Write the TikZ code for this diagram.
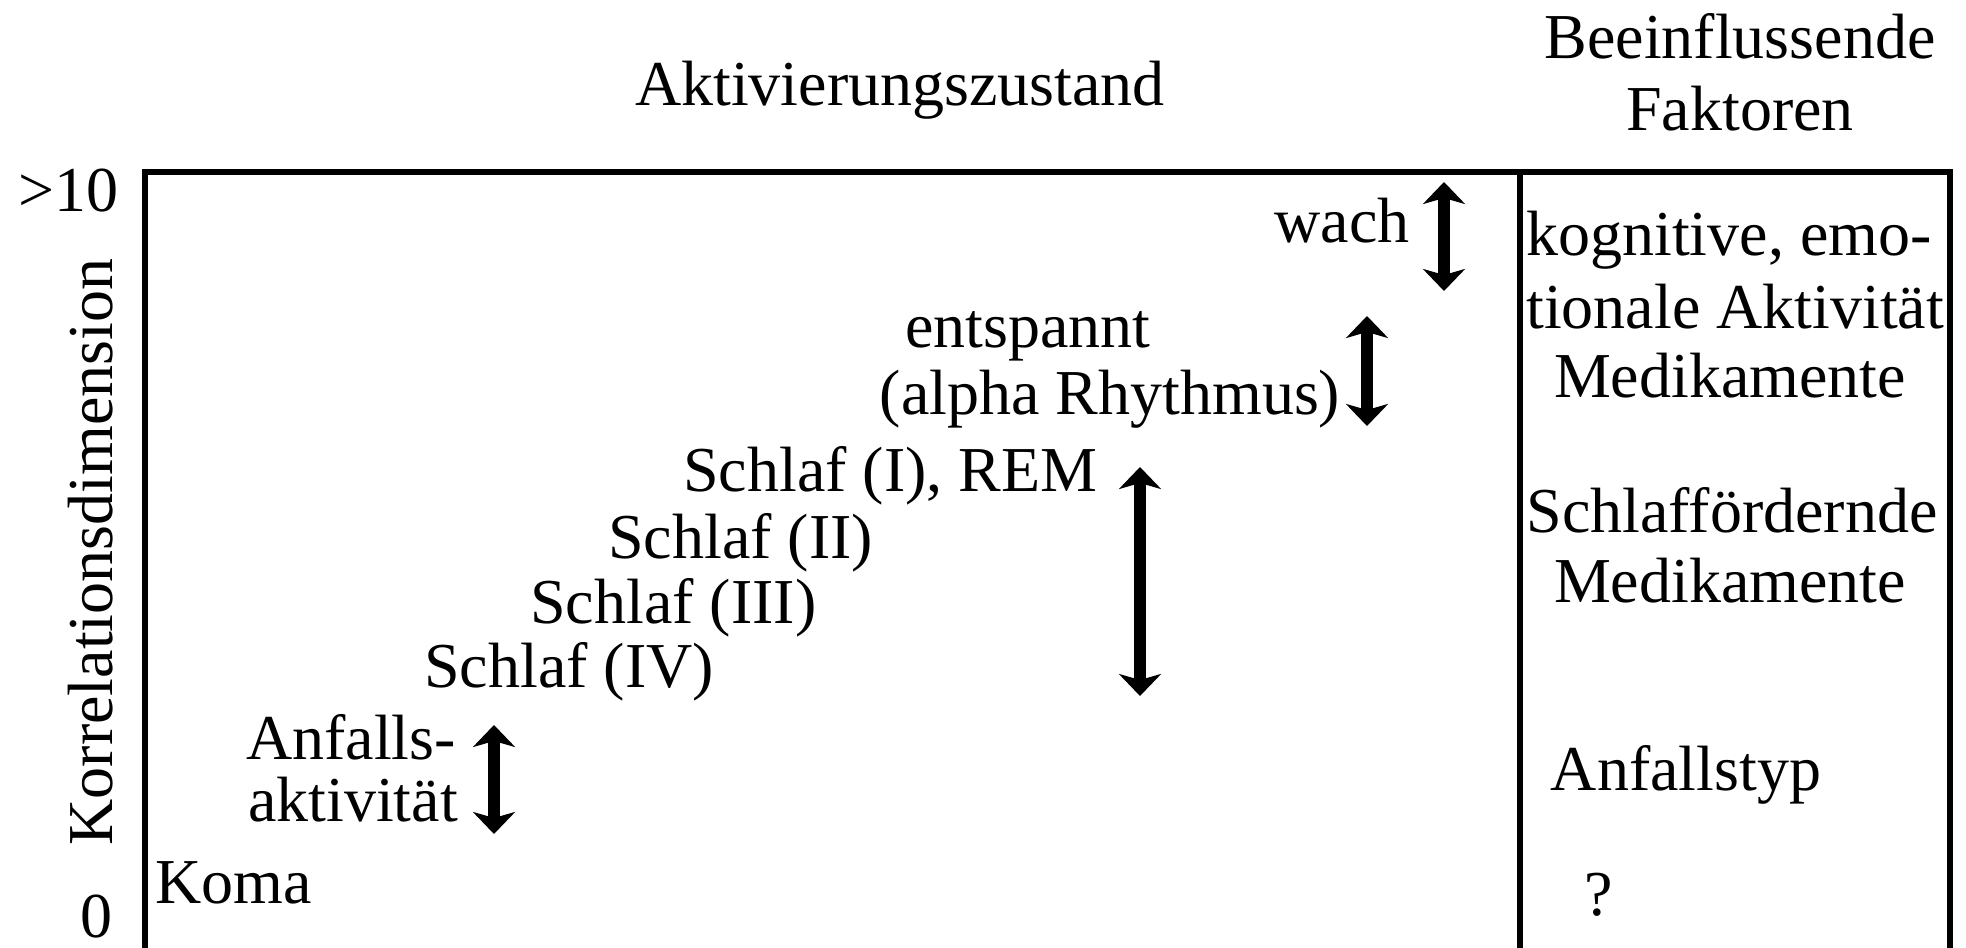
\documentclass[tikz,border=0pt]{standalone}
\usepackage{fontspec}
\setmainfont{Liberation Serif}
\usetikzlibrary{arrows.meta}
\begin{document}
\begin{tikzpicture}[x=0.5pt,y=-0.5pt,
  lbl/.style={inner sep=0pt,font=\fontsize{32}{38}\selectfont},
  frame/.style={line width=2.6pt},
  dbl/.style={line width=6pt,{Stealth[length=11pt,width=21pt,inset=3pt]}-{Stealth[length=11pt,width=21pt,inset=3pt]}}]
\useasboundingbox (0,0) rectangle (1966,948);
% frame
\coordinate (bl) at (145,948);
\coordinate (tl) at (145,172);
\coordinate (tm) at (1520,172);
\coordinate (bm) at (1520,948);
\coordinate (tr) at (1950,172);
\coordinate (br) at (1950,948);
\draw[frame] (bl) -- (tl) -- (tr) -- (br);
\draw[frame] (tm) -- (bm);
% headings
\node[lbl,anchor=base] (akt) at (900,105) {Aktivierungszustand};
\node[lbl,anchor=base] (bee) at (1740,58) {Beeinflussende};
\node[lbl,anchor=base] (fak) at (1740,130) {Faktoren};
% axis
\node[lbl,anchor=base east] (ten) at (119,211) {>10};
\node[lbl,anchor=base] (zero) at (96,937) {0};
\node[lbl,anchor=base,rotate=90] (korr) at (112,552) {Korrelationsdimension};
% states
\node[lbl,anchor=base east] (wach) at (1410,242) {wach};
\node[lbl,anchor=base] (ent) at (1028,347) {entspannt};
\node[lbl,anchor=base] (alpha) at (1110,414) {(alpha Rhythmus)};
\node[lbl,anchor=base west] (s1) at (683,491) {Schlaf (I), REM};
\node[lbl,anchor=base west] (s2) at (608,558) {Schlaf (II)};
\node[lbl,anchor=base west] (s3) at (530,623) {Schlaf (III)};
\node[lbl,anchor=base west] (s4) at (424,687) {Schlaf (IV)};
\node[lbl,anchor=base] (anf) at (351,759) {Anfalls-};
\node[lbl,anchor=base] (anfb) at (353,821) {aktivität};
\node[lbl,anchor=base west] (koma) at (155,903) {Koma};
% factors
\node[lbl,anchor=base west] (f1) at (1526,255) {kognitive, emo-};
\node[lbl,anchor=base west] (f2) at (1526,328) {tionale Aktivität};
\node[lbl,anchor=base] (f3) at (1730,397) {Medikamente};
\node[lbl,anchor=base] (f4) at (1732,532) {Schlaffördernde};
\node[lbl,anchor=base] (f5) at (1730,602) {Medikamente};
\node[lbl,anchor=base] (f6) at (1686,790) {Anfallstyp};
\node[lbl,anchor=base] (f7) at (1599,915) {?};
% arrows
\coordinate (a1t) at (1444,182); \coordinate (a1b) at (1444,291);
\coordinate (a2t) at (1367,316); \coordinate (a2b) at (1367,426);
\coordinate (a3t) at (1140,467); \coordinate (a3b) at (1140,696);
\coordinate (a4t) at (494,725);  \coordinate (a4b) at (494,834);
\draw[dbl] (a1t) -- (a1b);
\draw[dbl] (a2t) -- (a2b);
\draw[dbl] (a3t) -- (a3b);
\draw[dbl] (a4t) -- (a4b);
\end{tikzpicture}
\end{document}
